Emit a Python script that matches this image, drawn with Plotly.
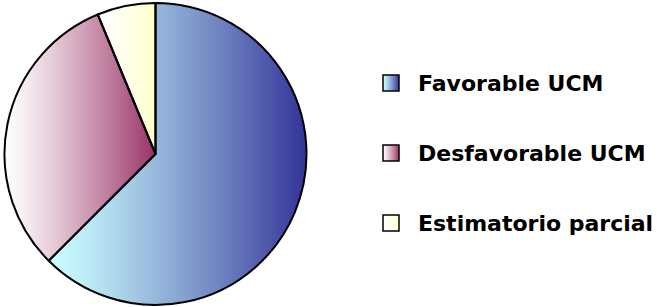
import numpy as np
import plotly.graph_objects as go

# ---- data ----
labels = ["Favorable UCM", "Desfavorable UCM", "Estimatorio parcial"]
values = [10, 5, 1]

# ---- styles (two-colour horizontal gradients, left -> right) ----
grad_from = [(204, 255, 255), (255, 255, 255), (255, 255, 255)]
grad_to = [(51, 51, 153), (153, 51, 102), (255, 255, 204)]
GAMMA = 1.2

W, H = 657, 307
CX, CY, R = 155.5, 154.0, 151.0          # pie centre / radius in pixels
LEG_X, LEG_SQ, LEG_TX = 383, 16, 416
LEG_ROWS = [83, 153, 223]

total = float(sum(values))
bounds = np.cumsum([0] + values) / total * 2 * np.pi   # clockwise from 12 o'clock


def slice_xrange(a0, a1):
    angs = [a0, a1] + [k * np.pi / 2 for k in range(5) if a0 < k * np.pi / 2 < a1]
    xs = [CX] + [CX + R * np.sin(a) for a in angs]
    return min(xs), max(xs)


# gradient fill of the pie slices (drawn under a transparent pie trace)
x_lo, x_hi = int(np.floor(CX - R)), int(np.ceil(CX + R))
y_lo, y_hi = int(np.floor(CY - R)), int(np.ceil(CY + R))
X, Y = np.meshgrid(np.arange(x_lo, x_hi) + 0.5, np.arange(y_lo, y_hi) + 0.5)
ang = np.mod(np.arctan2(X - CX, -(Y - CY)), 2 * np.pi)
rr = np.hypot(X - CX, Y - CY)
img = np.zeros(X.shape + (4,), dtype=np.uint8)
for i in range(len(values)):
    m = (ang >= bounds[i]) & (ang < bounds[i + 1]) & (rr <= R + 0.5)
    lo, hi = slice_xrange(bounds[i], bounds[i + 1])
    t = np.clip((X - lo) / (hi - lo), 0, 1) ** GAMMA
    for c in range(3):
        img[..., c][m] = np.round(grad_from[i][c] + (grad_to[i][c] - grad_from[i][c]) * t[m])
    img[..., 3][m] = 255

fig = go.Figure()
fig.add_trace(go.Image(z=img.tolist(), colormodel="rgba256", x0=x_lo + 0.5, y0=y_lo + 0.5,
                       dx=1, dy=1, hoverinfo="skip"))

fig.add_trace(go.Pie(
    labels=labels, values=values, sort=False, direction="clockwise", rotation=0,
    textinfo="none", showlegend=False,
    marker=dict(colors=["rgba(0,0,0,0)"] * len(values), line=dict(color="black", width=2)),
    domain=dict(x=[(CX - R) / W, (CX + R) / W], y=[1 - (CY + R) / H, 1 - (CY - R) / H]),
))

# legend: gradient squares + labels
shapes, annotations = [], []
for i, lab in enumerate(labels):
    yc = LEG_ROWS[i]
    sq = np.zeros((LEG_SQ, LEG_SQ, 4), dtype=np.uint8)
    t = ((np.arange(LEG_SQ) + 0.5) / LEG_SQ) ** GAMMA
    for c in range(3):
        sq[:, :, c] = np.round(grad_from[i][c] + (grad_to[i][c] - grad_from[i][c]) * t)[None, :]
    sq[:, :, 3] = 255
    top = yc - LEG_SQ / 2
    fig.add_trace(go.Image(z=sq.tolist(), colormodel="rgba256", x0=LEG_X + 0.5, y0=top + 0.5,
                           dx=1, dy=1, hoverinfo="skip"))
    shapes.append(dict(type="rect", xref="x", yref="y", x0=LEG_X, x1=LEG_X + LEG_SQ,
                       y0=top, y1=top + LEG_SQ, line=dict(color="black", width=1.5)))
    annotations.append(dict(xref="x", yref="y", x=LEG_TX, y=yc, xanchor="left", yanchor="middle",
                            text="<b>%s</b>" % lab, showarrow=False,
                            font=dict(family="DejaVu Sans", size=22, color="black")))

fig.update_layout(
    width=W, height=H, margin=dict(l=0, r=0, t=0, b=0),
    paper_bgcolor="white", plot_bgcolor="white",
    xaxis=dict(range=[0, W], visible=False, fixedrange=True),
    yaxis=dict(range=[H, 0], visible=False, fixedrange=True),
    shapes=shapes, annotations=annotations, showlegend=False,
)
fig.write_html("out.html", config={"displayModeBar": False},
               post_script="document.body.style.margin='0';document.body.style.overflow='hidden';")
